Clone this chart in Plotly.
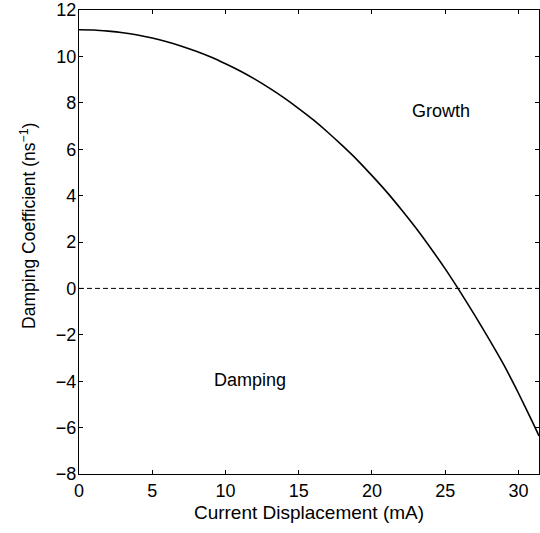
import plotly.graph_objects as go

# Values
current_ma = [0, 1, 2, 3, 4, 5, 6, 7, 8, 9, 10, 11, 12, 13, 14, 15, 16, 17, 18, 19, 20,
              21, 22, 23, 24, 25, 26, 27, 28, 29, 30, 31, 31.4]
damping_ns = [11.15, 11.14, 11.09, 11.02, 10.92, 10.79, 10.63, 10.44, 10.22, 9.97, 9.68,
              9.37, 9.02, 8.63, 8.21, 7.75, 7.26, 6.72, 6.14, 5.53, 4.86, 4.16, 3.40, 2.60,
              1.74, 0.84, -0.13, -1.14, -2.20, -3.30, -4.52, -5.82, -6.36]

zero_x = [0, 31.4]
zero_y = [0, 0]

x_ticks = [0, 5, 10, 15, 20, 25, 30]
y_ticks = [-8, -6, -4, -2, 0, 2, 4, 6, 8, 10, 12]

label_growth = ("Growth", 24.7, 7.66)
label_damping = ("Damping", 11.7, -3.96)

FONT = "Liberation Sans, Arial, Helvetica, sans-serif"

fig = go.Figure()
fig.add_trace(go.Scatter(x=zero_x, y=zero_y, mode="lines",
                         line=dict(color="black", width=1, dash="5px,3px"),
                         showlegend=False, hoverinfo="skip"))
fig.add_trace(go.Scatter(x=current_ma, y=damping_ns, mode="lines",
                         line=dict(color="black", width=1.6, shape="spline", smoothing=0.5),
                         showlegend=False))

for txt, ax, ay in (label_growth, label_damping):
    fig.add_annotation(x=ax, y=ay, text=txt, showarrow=False,
                       font=dict(family=FONT, size=18, color="black"),
                       xanchor="center", yanchor="middle")

# y-axis title (placed as rotated text, slightly above the plot centre as in the reference)
fig.add_annotation(xref="paper", yref="paper", x=-0.11, y=0.5356,
                   text="Damping Coefficient (ns<sup>\u22121</sup>)", textangle=-90,
                   showarrow=False, xanchor="center", yanchor="middle",
                   font=dict(family=FONT, size=17.5, color="black"))

axis_common = dict(showgrid=False, zeroline=False, showline=True, mirror="ticks",
                   linecolor="black", linewidth=1.3, ticks="inside", ticklen=4,
                   tickcolor="black", tickwidth=1,
                   tickfont=dict(family=FONT, size=18, color="black"))

fig.update_xaxes(range=[0, 31.4], tickvals=x_ticks,
                 title=dict(text="Current Displacement (mA)",
                            font=dict(family=FONT, size=19, color="black"), standoff=5),
                 **axis_common)
fig.update_yaxes(range=[-8, 12], tickvals=y_ticks, ticklabelstandoff=-2,
                 **axis_common)

fig.update_layout(width=540, height=533, plot_bgcolor="white", paper_bgcolor="white",
                  margin=dict(l=79, r=1, t=10, b=59, autoexpand=False),
                  font=dict(family=FONT, color="black"))

fig.write_html("out.html", config={"displayModeBar": False},
               post_script="document.body.style.margin='0px';")
